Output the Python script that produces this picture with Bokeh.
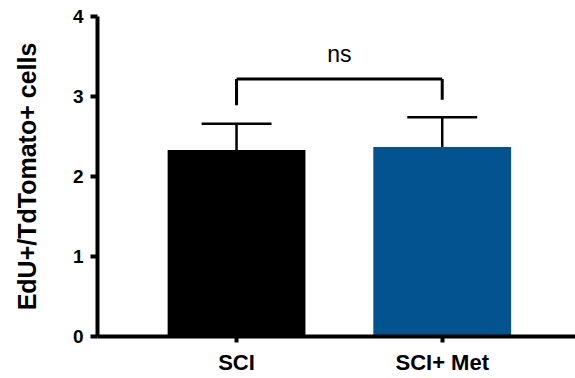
from bokeh.plotting import figure
from bokeh.models import Range1d, FixedTicker
from bokeh.embed import file_html
from bokeh.resources import INLINE
from bokeh.core.properties import value

# Data
categories = ["SCI", "SCI+ Met"]
means = [2.33, 2.37]
errors = [0.33, 0.37]
colors = ["#000000", "#02538F"]
y_ticks = [0, 1, 2, 3, 4]
sig_label = "ns"
sig_bracket_y = 3.22
sig_leg_bottoms = [2.89, 2.96]
sig_text_y = 3.53

xs = [1, 2]

p = figure(width=575, height=378, output_backend="svg", toolbar_location=None,
           x_range=Range1d(0.324, 2.648), y_range=Range1d(0, 4),
           min_border_left=97, min_border_top=16, min_border_right=0, min_border_bottom=42)
p.outline_line_color = None
p.grid.visible = False
p.background_fill_color = "white"

p.vbar(x=xs, top=means, width=0.67, color=colors, line_color=None)

# error bars (upper only)
uppers = [m + e for m, e in zip(means, errors)]
p.segment(x0=xs, y0=means, x1=xs, y1=uppers, line_color="black", line_width=2.5)
cap = 0.34
p.segment(x0=[x - cap / 2 for x in xs], y0=uppers, x1=[x + cap / 2 for x in xs], y1=uppers,
          line_color="black", line_width=2.5)

# significance bracket
p.segment(x0=xs, y0=sig_leg_bottoms, x1=xs, y1=[sig_bracket_y] * 2, line_color="black", line_width=3)
p.segment(x0=[xs[0]], y0=[sig_bracket_y], x1=[xs[1]], y1=[sig_bracket_y], line_color="black", line_width=3)
p.text(x=[(xs[0] + xs[1]) / 2], y=[sig_text_y], text=[sig_label], text_align="center",
       text_baseline="alphabetic", text_font=value("Liberation Sans"), text_font_size="23px",
       text_color="black")

# axes
xa = p.xaxis[0]
xa.ticker = FixedTicker(ticks=xs)
xa.major_label_overrides = {x: c for x, c in zip(xs, categories)}
xa.minor_tick_line_color = None
xa.axis_line_width = 4
xa.major_tick_line_width = 4
xa.major_tick_out = 6
xa.major_tick_in = 0
xa.major_label_text_font = "Liberation Sans"
xa.major_label_text_font_style = "bold"
xa.major_label_text_font_size = "22px"
xa.major_label_text_color = "black"
xa.major_label_standoff = 7

ya = p.yaxis[0]
ya.ticker = FixedTicker(ticks=y_ticks)
ya.minor_tick_line_color = None
ya.axis_line_width = 4
ya.major_tick_line_width = 4
ya.major_tick_out = 7
ya.major_tick_in = 0
ya.major_label_text_font = "Liberation Sans"
ya.major_label_text_font_style = "bold"
ya.major_label_text_font_size = "19px"
ya.major_label_text_color = "black"
ya.major_label_standoff = 7
ya.axis_label = "EdU+/TdTomato+ cells"
ya.axis_label_text_font = "Liberation Sans"
ya.axis_label_text_font_style = "bold"
ya.axis_label_text_font_size = "25px"
ya.axis_label_text_color = "black"
ya.axis_label_standoff = 29

open("out.html", "w").write(file_html(p, INLINE))
